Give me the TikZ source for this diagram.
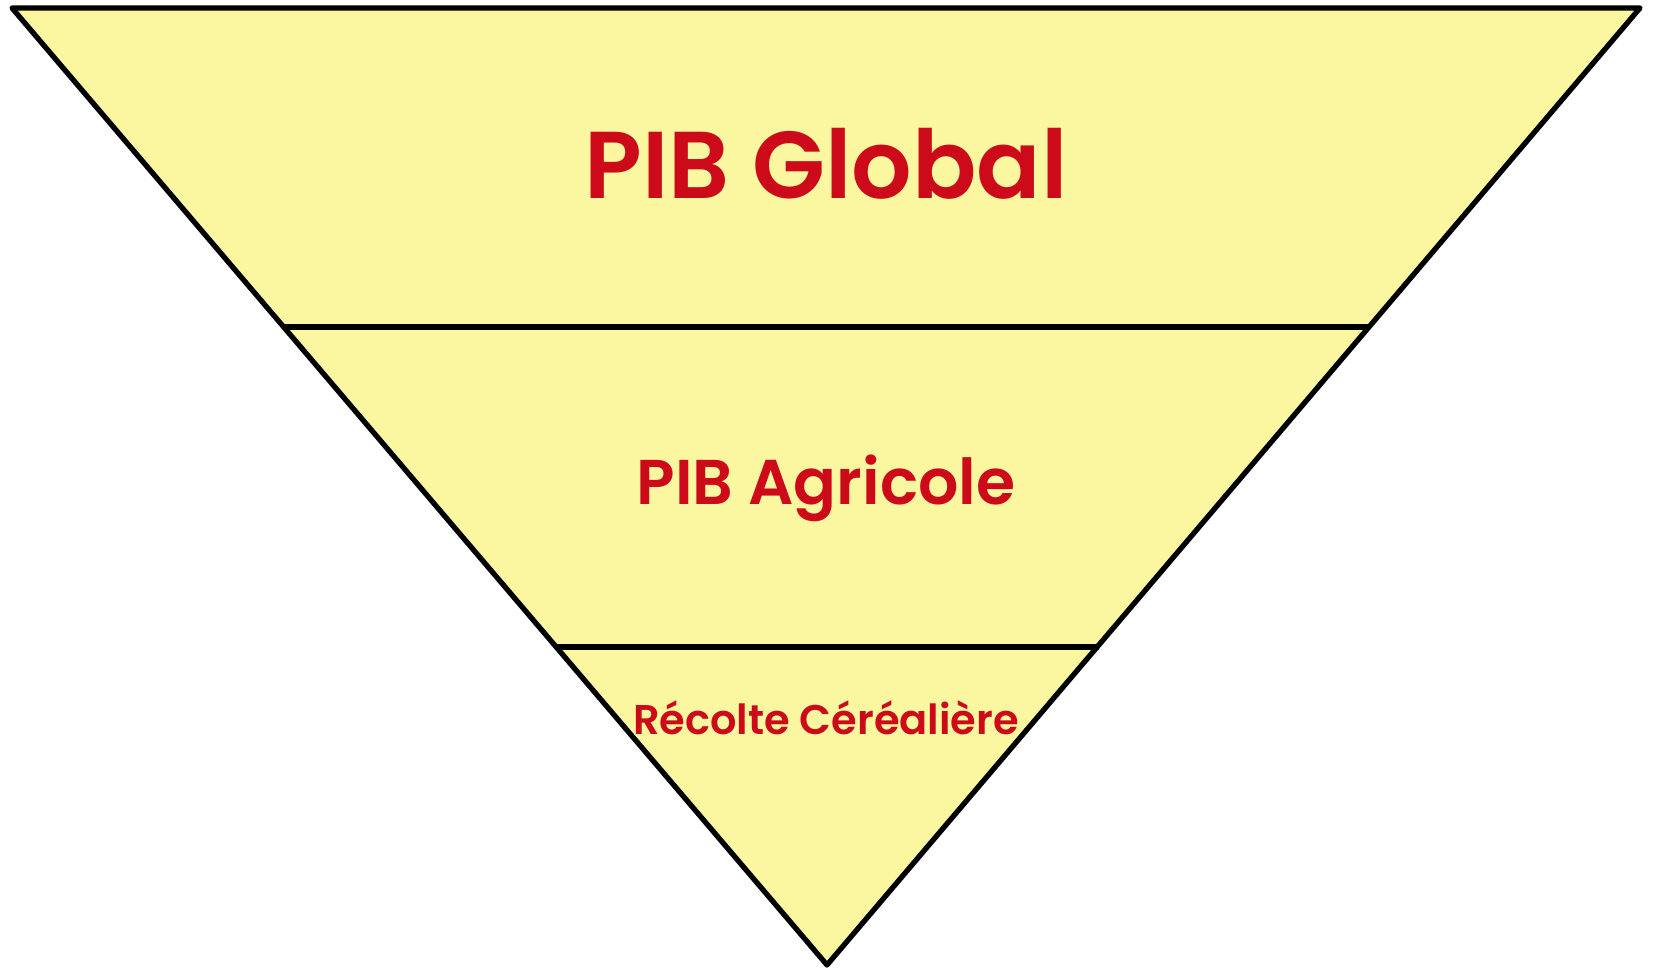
\documentclass[tikz,border=0pt]{standalone}
\usepackage{fontspec}
\setmainfont{Poppins}[BoldFont={Poppins SemiBold}]
\definecolor{funnelback}{RGB}{250,247,160}
\definecolor{titlered}{RGB}{205,10,25}

\begin{document}
\begin{tikzpicture}[x=0.01cm,y=-0.01cm,
  level/.style={inner sep=0pt,text=titlered}]
\useasboundingbox (0,0) rectangle (1654,968);
\draw [fill=funnelback,line width=1.5pt,line join=round]
  (12,8) -- (1640,8) -- (827,965) -- cycle;
\draw [line width=1.5pt] (284,327) -- (1370,327);
\draw [line width=1.5pt] (556,647) -- (1099,647);
% the three levels
\node [level,font=\bfseries\fontsize{27}{32}\selectfont] (global) at (826,164) {PIB Global};
\node [level,font=\bfseries\fontsize{18}{22}\selectfont] (agricole) at (826,488) {PIB Agricole};
\node [level,font=\bfseries\fontsize{11.8}{14}\selectfont] (recolte) at (826,718) {Récolte Céréalière};
\end{tikzpicture}
\end{document}
